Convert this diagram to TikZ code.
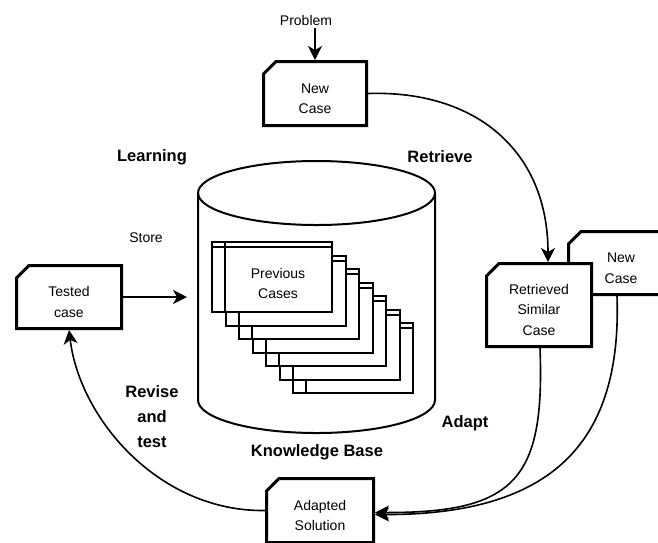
\documentclass[tikz,border=0pt]{standalone}
\usepackage{fontspec}
\setmainfont{Liberation Sans}
\usetikzlibrary{arrows.meta,shapes.misc}
\newcommand\mylow{\rule{0pt}{20pt}}
\begin{document}
\begin{tikzpicture}[x=1pt,y=1pt,
  cbox/.style={chamfered rectangle, chamfered rectangle corners=north west,
    chamfered rectangle xsep=9pt, draw, fill=white, line width=3pt, inner sep=0pt,
    align=center, font=\fontsize{14}{20.5}\selectfont},
  arr/.style={line width=1.6pt, -{Stealth[length=14pt,width=14pt,inset=4pt]}},
  lbl/.style={font=\fontsize{16.5}{25}\selectfont\bfseries, align=center, inner sep=0pt},
  txt/.style={font=\fontsize{14}{20}\selectfont, align=center, inner sep=0pt},
  card/.style={line width=2pt, fill=white},
  cyl/.style={line width=2pt}]
\clip (0,0) rectangle (658,-542);
\fill[white] (0,0) rectangle (658,-542);

% knowledge base cylinder
\draw[cyl] (198,-193) -- (198,-400) arc[start angle=180, end angle=360, x radius=118.5, y radius=33] -- (435,-193);
\draw[cyl] (316.5,-193) ellipse[x radius=118.5, y radius=32];
\coordinate (kbin) at (187,-297);

% stacked cards
\foreach \i in {6,5,...,0}{
  \pgfmathsetmacro\cx{212+13.5*\i}
  \pgfmathsetmacro\cy{-242-13.5*\i}
  \draw[card] (\cx,\cy) rectangle ++(120,-70);
  \draw[line width=2pt] (\cx,\cy-5) -- ++(120,0);
  \draw[line width=2pt] (\cx+13,\cy) -- ++(0,-70);
}
\node[txt] (prev) at (278,-283) {Previous\\Cases};

% boxes
\node[cbox, minimum width=103pt, minimum height=64pt] (newcase) at (315,-93.5) {\mylow New\\Case};
\node[cbox, minimum width=105pt, minimum height=63pt] (tested) at (69,-297) {\mylow Tested\\case};
\node[cbox, minimum width=105pt, minimum height=63pt] (backcase) at (621,-263) {\mylow New\\Case};
\node[cbox, minimum width=105pt, minimum height=83pt] (retrieved) at (539,-305) {\mylow Retrieved\\Similar\\Case};
\node[cbox, minimum width=107pt, minimum height=64pt] (adapted) at (320,-510.5) {\mylow Adapted\\Solution};

% labels
\node[txt] (problem) at (306,-20) {Problem};
\node[lbl] (learning) at (152,-157) {Learning};
\node[lbl] (retrieve) at (440,-157) {Retrieve};
\node[txt] (store) at (146,-238) {Store};
\node[lbl] (revise) at (152,-417) {Revise\\and\\test};
\node[lbl] (adapt) at (465,-423) {Adapt};
\node[lbl] (kb) at (317,-452) {Knowledge Base};

% connectors
\draw[arr] ([yshift=-3pt]newcase.north |- problem.south) -- (newcase.north);
\draw[arr] (newcase.east) .. controls (475,-90) and (548,-150) .. ([xshift=9pt]retrieved.north);
\draw[arr] (tested) -- (kbin);
\draw[arr] (adapted.west) .. controls (160,-512) and (80,-420) .. (tested.south);
\draw[arr] ([xshift=1pt]retrieved.south) .. controls (545,-480) and (515,-513) .. ([yshift=-2pt]adapted.east);
\draw[arr] ([xshift=-4pt]backcase.south) .. controls (622,-440) and (555,-515) .. ([yshift=-4pt]adapted.east);
\end{tikzpicture}
\end{document}
